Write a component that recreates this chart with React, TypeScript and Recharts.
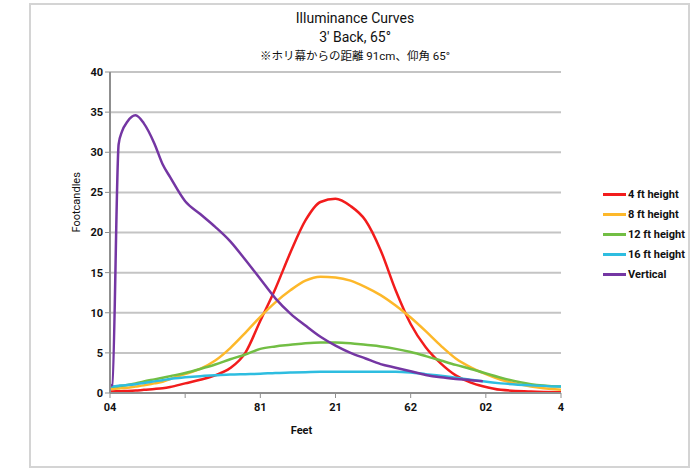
import React from 'react';
import { LineChart, Line, XAxis, YAxis, CartesianGrid } from 'recharts';

// x positions in axis units (0..6 across the six labelled intervals)
const feet = [0, 0.03, 0.115, 0.16, 0.23, 0.34, 0.45, 0.59, 0.7, 0.8, 1.0, 1.2, 1.4, 1.6, 1.8, 2.0, 2.2, 2.4, 2.6, 2.8, 3.0, 3.2, 3.4, 3.6, 3.8, 4.0, 4.2, 4.4, 4.6, 4.8, 4.96, 5.2, 5.6, 6.0];

const fourFt = [0.2, 0.2, 0.22, 0.23, 0.25, 0.3, 0.4, 0.5, 0.6, 0.75, 1.2, 1.65, 2.2, 3.1, 5.0, 9.0, 13.0, 17.5, 21.5, 23.8, 24.2, 23.3, 21.5, 17.8, 12.8, 8.6, 5.7, 3.7, 2.2, 1.3, 0.85, 0.4, 0.2, 0.1];
const eightFt = [0.5, 0.5, 0.55, 0.6, 0.65, 0.8, 0.95, 1.2, 1.4, 1.75, 2.35, 3.0, 4.05, 5.6, 7.5, 9.5, 11.3, 12.8, 14.0, 14.5, 14.4, 14.0, 13.2, 12.2, 10.9, 9.4, 7.7, 5.9, 4.3, 3.2, 2.5, 1.65, 0.8, 0.4];
const twelveFt = [0.75, 0.78, 0.85, 0.9, 1.0, 1.2, 1.45, 1.7, 1.9, 2.1, 2.5, 3.0, 3.55, 4.2, 4.8, 5.5, 5.8, 6.0, 6.2, 6.3, 6.3, 6.2, 6.0, 5.8, 5.5, 5.1, 4.6, 4.05, 3.5, 3.0, 2.55, 1.9, 1.1, 0.8];
const sixteenFt = [0.8, 0.82, 0.9, 0.95, 1.0, 1.1, 1.25, 1.45, 1.6, 1.75, 1.95, 2.1, 2.2, 2.3, 2.35, 2.4, 2.5, 2.55, 2.6, 2.65, 2.65, 2.65, 2.65, 2.65, 2.65, 2.55, 2.35, 2.15, 1.9, 1.65, 1.45, 1.2, 0.95, 0.8];
const vertical = [0.9, 1.0, 31.0, 32.6, 33.8, 34.6, 33.6, 31.1, 28.5, 26.9, 23.9, 22.3, 20.7, 18.9, 16.6, 14.2, 11.8, 9.9, 8.4, 7.0, 5.9, 5.0, 4.3, 3.6, 3.15, 2.7, 2.25, 1.95, 1.75, 1.6, 1.45, null, null, null];

const xTickValues = [0, 1, 2, 3, 4, 5, 6];
const xTickLabels = ['04', '', '81', '21', '62', '02', '4'];
const yTicks = [0, 5, 10, 15, 20, 25, 30, 35, 40];

const seriesKeys = ['h4', 'h8', 'h12', 'h16', 'vert'];
const seriesNames = ['4 ft height', '8 ft height', '12 ft height', '16 ft height', 'Vertical'];
const seriesColors = ['#f21c1c', '#fdb82a', '#72be44', '#2ebde0', '#7436a3'];

const seriesValues = [fourFt, eightFt, twelveFt, sixteenFt, vertical];

const data = feet.map((x, i) => {
  const row: any = { x };
  seriesKeys.forEach((k, j) => {
    row[k] = seriesValues[j][i];
  });
  return row;
});

const FONT = "'Roboto', 'DejaVu Sans', sans-serif";

export default function App() {
  return (
    <div style={{ position: 'absolute', left: 0, top: 0, width: 697, height: 468, background: '#fff', fontFamily: FONT }}>
      <div style={{ position: 'absolute', left: 29, top: 3, width: 657, height: 461, border: '2px solid #d4d4d4' }} />
      <div style={{ position: 'absolute', left: 0, width: 710, top: 9, textAlign: 'center', fontSize: 14, color: '#111', lineHeight: '19px' }}>
        <div>Illuminance Curves</div>
        <div>3' Back, 65°</div>
        <div style={{ fontSize: 11.5, fontFamily: "'Roboto', 'Noto Sans CJK JP', sans-serif" }}>※ホリ幕からの距離 91cm、仰角 65°</div>
      </div>
      <div style={{ position: 'absolute', left: 0, top: 0 }}>
        <LineChart width={697} height={468} data={data} margin={{ top: 72, right: 136, bottom: 45, left: 50 }}>
          <CartesianGrid vertical={false} stroke="#c4c4c4" strokeWidth={2} />
          <XAxis
            type="number"
            dataKey="x"
            domain={[0, 6]}
            ticks={xTickValues}
            tickFormatter={(v: number) => xTickLabels[v]}
            interval={0}
            height={30}
            axisLine={{ stroke: '#8f8f8f', strokeWidth: 2 }}
            tickLine={{ stroke: '#8f8f8f' }}
            tickSize={5}
            tick={{ fontSize: 11, fontWeight: 700, fill: '#111', fontFamily: FONT, dy: 3 }}
            label={{ value: 'Feet', position: 'insideBottom', offset: -11, dx: -34, fontSize: 11, fontWeight: 700, fill: '#111', fontFamily: FONT }}
          />
          <YAxis
            domain={[0, 40]}
            ticks={yTicks}
            interval={0}
            width={60}
            axisLine={{ stroke: '#8f8f8f', strokeWidth: 2 }}
            tickLine={{ stroke: '#8f8f8f' }}
            tickSize={5}
            tick={{ fontSize: 11, fontWeight: 700, fill: '#111', fontFamily: FONT }}
            label={{ value: 'Footcandles', angle: -90, position: 'insideLeft', offset: 26, fontSize: 11, fill: '#111', fontFamily: FONT }}
          />
          {seriesKeys.map((k, i) => (
            <Line
              key={k}
              dataKey={k}
              name={seriesNames[i]}
              type="monotone"
              stroke={seriesColors[i]}
              strokeWidth={2.5}
              dot={false}
              isAnimationActive={false}
            />
          ))}
        </LineChart>
      </div>
      <div style={{ position: 'absolute', left: 603, top: 184, fontSize: 11, fontWeight: 700, color: '#111' }}>
        {seriesNames.map((n, i) => (
          <div key={n} style={{ display: 'flex', alignItems: 'center', height: 20 }}>
            <div style={{ width: 23, height: 3, background: seriesColors[i], marginRight: 2 }} />
            <span>{n}</span>
          </div>
        ))}
      </div>
    </div>
  );
}
